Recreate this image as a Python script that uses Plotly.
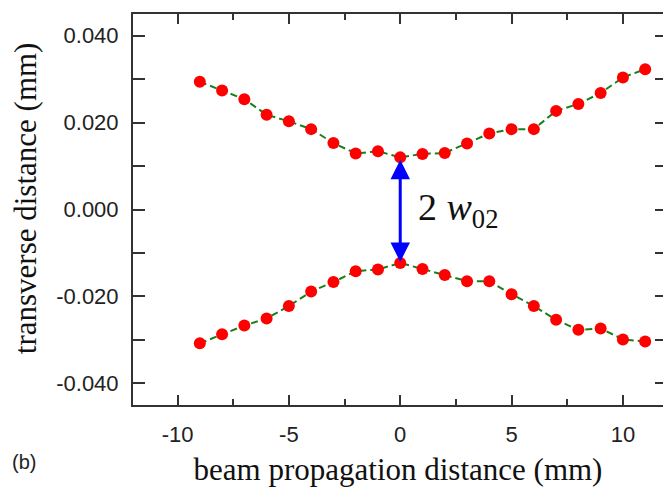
import plotly.graph_objects as go

# beam propagation distance (mm)
z_mm = [-9, -8, -7, -6, -5, -4, -3, -2, -1, 0, 1, 2, 3, 4, 5, 6, 7, 8, 9, 10, 11]
# upper beam edge (mm)
upper = [0.0294, 0.0274, 0.0254, 0.0218, 0.0203, 0.0185, 0.0153, 0.0129, 0.0134, 0.0120,
         0.0128, 0.0130, 0.0152, 0.0175, 0.0185, 0.0185, 0.0227, 0.0243, 0.0268, 0.0304, 0.0323]
# lower beam edge (mm)
lower = [-0.0308, -0.0287, -0.0267, -0.0251, -0.0222, -0.0189, -0.0167, -0.0142, -0.0138, -0.0123,
         -0.0137, -0.0151, -0.0165, -0.0165, -0.0195, -0.0222, -0.0254, -0.0277, -0.0274, -0.0299, -0.0304]

x_ticks = [-10, -5, 0, 5, 10]
y_ticks = [-0.04, -0.02, 0, 0.02, 0.04]
x_ticktext = [str(v) for v in x_ticks]
y_ticktext = ["%.3f" % v for v in y_ticks]

x_range = [-12, 11.8]
y_range = [-0.045, 0.045]

line_style = dict(color="#1a7f1a", width=2, dash="7px,4px")
marker_style = dict(color="#ff0000", size=12, line=dict(width=0))

fig = go.Figure()
for ys in (upper, lower):
    fig.add_trace(go.Scatter(x=z_mm, y=ys, mode="lines+markers",
                             line=line_style, marker=marker_style,
                             showlegend=False, hoverinfo="x+y"))
# invisible trace to realize the right-hand tick axis
fig.add_trace(go.Scatter(x=[None], y=[None], yaxis="y2", showlegend=False, hoverinfo="skip"))

i0 = z_mm.index(0)
fig.add_annotation(x=0, y=lower[i0], ax=0, ay=upper[i0], axref="x", ayref="y",
                   xref="x", yref="y", text="", showarrow=True,
                   arrowside="end+start", arrowhead=2, arrowsize=1.3,
                   arrowwidth=3, arrowcolor="#0000ff", standoff=1, startstandoff=1)
fig.add_annotation(x=0.7, y=0.0, xref="x", yref="y", xanchor="left", yanchor="middle",
                   text="2 <i>w</i><sub>02</sub>", showarrow=False,
                   font=dict(family="Liberation Serif", size=38, color="#111"))
# panel label and y title placed in paper units of the plot area (x: 133..663 px, y: 14..405 px)
fig.add_annotation(x=-0.205, y=-0.145, xref="paper", yref="paper", text="(b)", showarrow=False,
                   xanchor="center", yanchor="middle",
                   font=dict(family="Liberation Sans", size=20, color="#222"))
fig.add_annotation(x=-0.203, y=0.53, xref="paper", yref="paper",
                   text="transverse distance (mm)", showarrow=False, textangle=-90,
                   xanchor="center", yanchor="middle",
                   font=dict(family="Liberation Serif", size=31, color="#111"))

axis_font = dict(family="Liberation Sans", size=22, color="#222")
title_font = dict(family="Liberation Serif", size=31, color="#111")

fig.update_layout(
    width=663, height=487,
    margin=dict(l=133, r=0, t=14, b=82),
    paper_bgcolor="white", plot_bgcolor="white",
    xaxis=dict(range=x_range, showgrid=False, zeroline=False,
               showline=True, linecolor="#333", linewidth=2, mirror="ticks",
               ticks="inside", ticklen=10, tickwidth=1.5, tickcolor="#333",
               tickvals=x_ticks, ticktext=x_ticktext, tickfont=axis_font, ticklabelstandoff=9,
               minor=dict(tickvals=[-7.5, -2.5, 2.5, 7.5], ticks="inside", ticklen=6,
                          tickwidth=1.5, tickcolor="#333"),
               title=dict(text="beam propagation distance (mm)", font=title_font, standoff=15)),
    yaxis=dict(range=y_range, showgrid=False, zeroline=False,
               showline=True, linecolor="#333", linewidth=2,
               ticks="inside", ticklen=12, tickwidth=1.5, tickcolor="#333",
               tickvals=y_ticks, ticktext=y_ticktext,
               tickfont=axis_font, ticklabelstandoff=8,
               minor=dict(tickvals=[-0.03, -0.01, 0.01, 0.03], ticks="inside", ticklen=12,
                          tickwidth=1.5, tickcolor="#333")),
    yaxis2=dict(range=y_range, overlaying="y", side="right", anchor="x",
                showgrid=False, zeroline=False, showline=False, showticklabels=False,
                ticks="inside", ticklen=8, tickwidth=1.5, tickcolor="#333",
                tickvals=[-0.04, -0.03, -0.02, -0.01, 0, 0.01, 0.02, 0.03, 0.04]),
)
fig.write_html("out.html")
